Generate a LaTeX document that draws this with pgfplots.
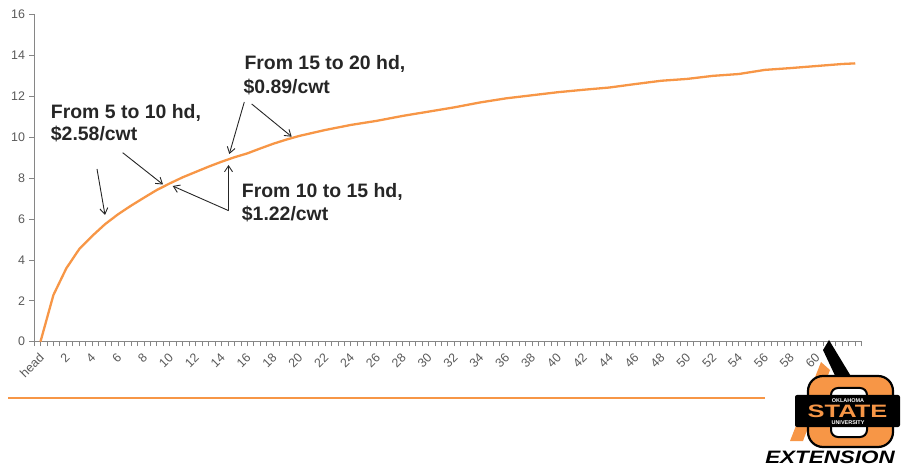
\documentclass[border=0pt]{standalone}
\usepackage{fontspec}
\setmainfont{Liberation Sans}
\usepackage{pgfplots}
\pgfplotsset{compat=1.18}
\usetikzlibrary{arrows.meta}
\definecolor{osuorange}{RGB}{247,150,70}
\definecolor{axisgray}{RGB}{134,134,134}
\definecolor{labelgray}{RGB}{89,89,89}
\definecolor{annot}{RGB}{38,38,38}
\begin{document}
\begin{tikzpicture}
\begin{scope}[x=1bp,y=-1bp]
\path[use as bounding box] (0,0) rectangle (904,467);
\end{scope}
\begin{axis}[
  at={(34bp,-341.7bp)}, anchor=south west,
  scale only axis, width=827.7bp, height=327.2bp,
  xmin=-0.5, xmax=63.5, ymin=0, ymax=16,
  axis x line*=bottom, axis y line*=left,
  axis line style={axisgray, line width=0.8bp, -},
  xtick={0,2,...,60},
  xticklabels={head,2,4,6,8,10,12,14,16,18,20,22,24,26,28,30,32,34,36,38,40,42,44,46,48,50,52,54,56,58,60},
  minor xtick={-0.5,0,...,63.5},
  ytick={0,2,...,16},
  tick align=outside,
  major tick length=4.5bp, minor tick length=4.5bp,
  every tick/.style={axisgray, line width=0.8bp},
  minor tick style={axisgray, line width=0.8bp},
  xticklabel style={xshift=2bp, yshift=-8.5bp, rotate=45, anchor=east, font=\fontsize{12.5}{14}\selectfont, text=labelgray, inner sep=1bp},
  yticklabel style={font=\fontsize{12.5}{14}\selectfont, text=labelgray, xshift=-1bp},
  /pgf/number format/assume math mode=true,
  clip=false,
]
\addplot[osuorange, line width=2.3bp, line join=round] coordinates {
(0,0) (1,2.28) (2,3.59) (3,4.53) (4,5.17) (5,5.75) (6,6.23) (7,6.65) (8,7.04) (9,7.42)
(10,7.74) (11,8.04) (12,8.30) (13,8.56) (14,8.80) (15,9.02) (16,9.21) (17,9.45) (18,9.68) (19,9.88)
(20,10.06) (22,10.35) (24,10.60) (26,10.80) (28,11.04) (30,11.25) (32,11.46) (34,11.70) (36,11.90) (38,12.05)
(40,12.20) (42,12.32) (44,12.43) (46,12.60) (48,12.76) (50,12.85) (52,13.00) (54,13.09) (56,13.29) (58,13.38)
(60,13.48) (62,13.58) (63,13.61)
};
\end{axis}
\begin{scope}[x=1bp,y=-1bp]
% annotations
\begin{scope}[annot, line width=0.9bp, -{Straight Barb[length=6bp,width=8bp]}]
\draw (97,169) -- (105,215);
\draw (122.7,152.7) -- (163,184.5);
\draw (228.7,210.7) -- (172.7,186);
\draw (228.5,210) -- (228.5,165);
\draw (244.3,102) -- (229.3,154);
\draw (251.7,104) -- (291.7,136.7);
\end{scope}
\begin{scope}[every node/.style={anchor=base west, inner sep=0pt, text=annot, font=\fontsize{19.5}{23}\bfseries}]
\node at (50.7,118.3) {From 5 to 10 hd,};
\node at (50.7,140.7) {\$2.58/cwt};
\node at (244.3,69.3) {From 15 to 20 hd,};
\node at (243.3,93.3) {\$0.89/cwt};
\node at (241.7,197.7) {From 10 to 15 hd,};
\node at (241.7,221) {\$1.22/cwt};
\end{scope}
% separator line
\draw[osuorange, line width=2bp] (8,398) -- (765,398);
% logo
\fill[black] (823,350) -- (829,340) -- (852,378) -- (838,382) -- cycle;
\fill[osuorange] (821,362) -- (830,370) -- (803,441) -- (790,441) -- cycle;
\fill[black] (870,425) -- (883,425) -- (890,441) -- (877,441) -- cycle;
\filldraw[fill=osuorange, draw=black, line width=2.2bp, rounded corners=15bp] (808,376) rectangle (893,447);
\filldraw[fill=white, draw=black, line width=2bp, rounded corners=7bp] (831,388) rectangle (867,437);
\fill[black, rounded corners=2bp] (795,395) rectangle (900,427);
\node[text=white, font=\fontsize{5.5}{6}\bfseries, inner sep=0pt] at (848,401) {OKLAHOMA};
\node[text=osuorange, font=\fontsize{18}{18}\bfseries, inner sep=0pt, xscale=1.42] at (847.5,411.5) {STATE};
\node[text=white, font=\fontsize{5.5}{6}\bfseries, inner sep=0pt] at (848,422.5) {UNIVERSITY};
\node[anchor=base west, inner sep=0pt, font=\fontsize{18}{18}\bfseries\itshape, xscale=1.25] at (765,463) {EXTENSION};
\end{scope}
\end{tikzpicture}
\end{document}
